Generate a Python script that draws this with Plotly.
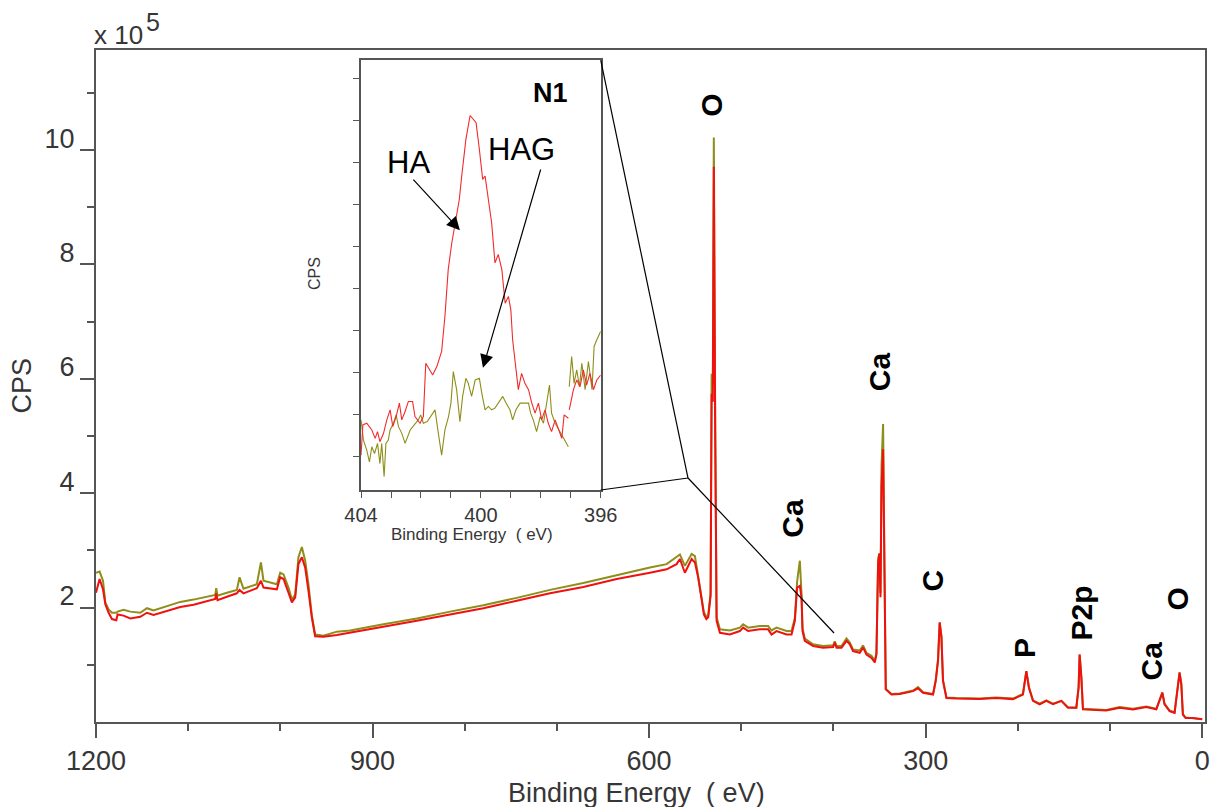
import plotly.graph_objects as go

# ---------------- main survey spectrum (x 10^5 CPS) ----------------
energy = [1200.0, 1196.1, 1192.4, 1189.9, 1186.3, 1182.7, 1178.0, 1176.6, 1170.1, 1162.8,
          1152.0, 1144.7, 1137.6, 1123.0, 1108.6, 1094.2, 1079.7, 1070.7, 1069.6, 1068.2,
          1058.0, 1047.2, 1044.3, 1040.0, 1025.5, 1021.1, 1018.3, 1003.8, 1000.2, 996.6,
          991.2, 987.5, 983.9, 980.4, 976.7, 973.1, 969.5, 965.9, 962.3, 953.3,
          938.7, 924.3, 888.2, 852.0, 815.9, 779.8, 743.6, 707.5, 671.4, 635.2,
          599.1, 581.0, 570.2, 566.6, 561.2, 553.9, 550.3, 546.8, 543.1, 540.6,
          537.9, 535.9, 533.3, 532.2, 530.9, 529.8, 528.3, 526.8, 523.2, 512.4,
          501.6, 498.0, 492.6, 479.9, 470.9, 467.2, 461.8, 450.9, 445.5, 441.9,
          439.5, 436.5, 434.7, 433.6, 431.1, 422.1, 411.3, 400.4, 398.6, 396.7,
          391.3, 385.9, 382.3, 378.8, 371.5, 367.9, 364.2, 358.8, 355.2, 353.4,
          351.6, 350.3, 349.0, 347.9, 346.2, 345.1, 344.3, 343.3, 337.1, 328.1,
          313.7, 308.3, 302.9, 292.0, 289.1, 286.6, 284.8, 282.9, 281.2, 277.5,
          266.7, 241.4, 223.3, 205.3, 194.5, 190.8, 188.0, 183.6, 176.4, 169.1,
          161.9, 152.8, 145.7, 136.6, 134.1, 133.0, 131.1, 129.4, 104.1, 89.6,
          75.2, 60.7, 49.8, 43.3, 40.9, 35.4, 30.0, 26.4, 24.6, 22.7,
          21.0, 18.1, 10.2, 0.0]

cps_ha = [2.26, 2.50, 2.32, 2.06, 1.91, 1.80, 1.78, 1.88, 1.86, 1.81,
          1.84, 1.91, 1.87, 1.94, 2.01, 2.05, 2.11, 2.15, 2.25, 2.13,
          2.19, 2.25, 2.31, 2.25, 2.34, 2.47, 2.35, 2.32, 2.53, 2.50,
          2.26, 2.09, 2.18, 2.76, 2.88, 2.70, 2.29, 1.83, 1.50, 1.49,
          1.52, 1.56, 1.66, 1.77, 1.88, 1.99, 2.12, 2.25, 2.36, 2.50,
          2.61, 2.67, 2.76, 2.85, 2.61, 2.85, 2.79, 2.53, 2.15, 1.88,
          1.80, 1.83, 2.21, 5.74, 5.60, 9.71, 5.04, 1.77, 1.56, 1.53,
          1.59, 1.65, 1.59, 1.62, 1.62, 1.53, 1.59, 1.53, 1.53, 1.77,
          2.35, 2.38, 2.18, 1.59, 1.42, 1.33, 1.30, 1.31, 1.39, 1.30,
          1.30, 1.42, 1.36, 1.24, 1.21, 1.30, 1.18, 1.12, 1.04, 1.18,
          2.76, 2.94, 2.18, 4.13, 4.77, 2.77, 1.68, 0.57, 0.48, 0.49,
          0.54, 0.59, 0.51, 0.48, 0.72, 1.07, 1.74, 1.48, 0.72, 0.42,
          0.41, 0.40, 0.42, 0.40, 0.48, 0.89, 0.60, 0.37, 0.31, 0.37,
          0.31, 0.37, 0.25, 0.25, 0.60, 1.18, 0.77, 0.22, 0.20, 0.25,
          0.22, 0.26, 0.22, 0.51, 0.31, 0.19, 0.16, 0.60, 0.86, 0.66,
          0.13, 0.07, 0.07, 0.05]

cps_hag = [2.61, 2.63, 2.47, 2.09, 1.97, 1.91, 1.91, 1.93, 1.96, 1.93,
           1.91, 1.99, 1.95, 2.02, 2.10, 2.14, 2.19, 2.22, 2.34, 2.21,
           2.26, 2.31, 2.53, 2.33, 2.41, 2.79, 2.47, 2.41, 2.61, 2.58,
           2.35, 2.14, 2.23, 2.88, 3.06, 2.82, 2.40, 1.87, 1.53, 1.51,
           1.58, 1.60, 1.71, 1.81, 1.93, 2.04, 2.17, 2.31, 2.43, 2.57,
           2.70, 2.76, 2.89, 2.93, 2.73, 2.94, 2.90, 2.57, 2.20, 1.92,
           1.84, 1.86, 2.26, 6.09, 5.90, 10.22, 5.21, 1.83, 1.62, 1.60,
           1.65, 1.71, 1.65, 1.68, 1.68, 1.60, 1.65, 1.59, 1.59, 1.82,
           2.45, 2.82, 2.25, 1.64, 1.46, 1.36, 1.33, 1.34, 1.41, 1.33,
           1.33, 1.46, 1.39, 1.27, 1.25, 1.34, 1.21, 1.16, 1.07, 1.21,
           2.85, 2.95, 2.25, 4.48, 5.21, 2.85, 1.70, 0.58, 0.49, 0.50,
           0.55, 0.61, 0.52, 0.49, 0.73, 1.10, 1.74, 1.50, 0.73, 0.43,
           0.42, 0.41, 0.43, 0.41, 0.49, 0.89, 0.61, 0.38, 0.32, 0.38,
           0.32, 0.37, 0.26, 0.25, 0.61, 1.18, 0.78, 0.23, 0.21, 0.26,
           0.23, 0.27, 0.23, 0.52, 0.32, 0.20, 0.17, 0.61, 0.87, 0.67,
           0.14, 0.08, 0.07, 0.05]

assert len(energy) == len(cps_ha) == len(cps_hag)

# peak labels: (text, energy, height in 1e5 CPS)
peak_labels = [("O", 531.9, 10.79), ("Ca", 349.8, 6.13), ("Ca", 444.1, 3.57),
               ("C", 292.4, 2.47), ("P", 192.6, 1.29), ("P2p", 130.8, 1.91),
               ("Ca", 54.9, 1.07), ("O", 26.8, 2.15)]

y_tick_vals = [2, 4, 6, 8, 10]

# ---------------- inset: N1 region (arbitrary CPS units) ----------------
n1_ha_e = [404.00, 403.94, 403.81, 403.64, 403.53, 403.45, 403.37, 403.25, 403.14, 403.03,
           402.94, 402.83, 402.72, 402.64, 402.53, 402.42, 402.28, 402.20, 402.03, 401.92,
           401.84, 401.75, 401.61, 401.47, 401.31, 401.20, 401.09, 400.97, 400.86, 400.72,
           400.64, 400.50, 400.36, 400.27, 400.16, 400.05, 399.94, 399.86, 399.75, 399.64,
           399.53, 399.42, 399.30, 399.19, 399.08, 399.00, 398.94, 398.83, 398.75, 398.64,
           398.53, 398.41, 398.30, 398.19, 398.08, 397.97, 397.86, 397.75, 397.64, 397.52,
           397.41, 397.30, 397.22, 397.08, None, 397.05, 396.91, 396.80, 396.69, 396.58,
           396.47, 396.36, 396.24, 396.13, 396.00]
n1_ha_cps = [1.02, 1.74, 1.78, 1.62, 1.42, 1.58, 1.34, 1.54, 1.86, 2.10,
             1.70, 1.94, 2.26, 1.86, 2.06, 2.30, 2.30, 1.94, 1.78, 1.94,
             3.21, 3.09, 2.93, 3.13, 3.49, 4.33, 5.44, 6.08, 6.55, 7.11,
             7.67, 8.54, 9.11, 9.02, 8.94, 8.30, 7.59, 7.67, 7.11, 6.55,
             5.60, 5.80, 5.44, 4.64, 4.80, 4.48, 3.77, 3.05, 2.58, 2.97,
             2.73, 2.58, 2.26, 2.02, 2.26, 1.86, 2.10, 1.78, 1.58, 1.86,
             1.62, 1.42, 1.98, 1.90, None, 2.10, 2.58, 2.81, 2.65, 3.05,
             2.69, 2.97, 2.58, 2.81, 2.93]

n1_hag_e = [404.00, 403.92, 403.81, 403.72, 403.64, 403.55, 403.45, 403.37, 403.31, 403.23,
            403.17, 403.09, 403.03, 402.92, 402.83, 402.75, 402.64, 402.53, 402.36, 402.20,
            402.09, 402.01, 401.92, 401.79, 401.67, 401.53, 401.42, 401.31, 401.20, 401.08,
            401.00, 400.92, 400.81, 400.70, 400.61, 400.50, 400.42, 400.31, 400.19, 400.05,
            399.97, 399.86, 399.75, 399.64, 399.53, 399.42, 399.27, 399.16, 399.03, 398.94,
            398.83, 398.69, 398.53, 398.41, 398.34, 398.25, 398.14, 398.02, 397.91, 397.80,
            397.71, 397.64, 397.52, 397.36, 397.22, 397.08, None, 397.05, 396.97, 396.89,
            396.80, 396.71, 396.63, 396.52, 396.41, 396.29, 396.22, 396.13, 396.00]
n1_hag_cps = [1.86, 1.38, 1.14, 0.86, 1.22, 1.06, 1.30, 0.82, 1.30, 0.51,
              1.30, 1.38, 1.62, 1.78, 1.98, 1.70, 1.54, 1.30, 1.62, 1.78,
              1.86, 1.98, 1.78, 1.82, 1.94, 2.10, 1.54, 1.02, 1.62, 1.94,
              2.26, 3.01, 2.58, 1.82, 2.42, 2.85, 2.73, 2.42, 2.81, 2.85,
              2.50, 2.10, 2.18, 2.10, 2.14, 2.26, 2.42, 2.26, 2.10, 1.86,
              2.10, 2.26, 2.26, 2.26, 2.02, 1.86, 1.58, 1.94, 1.78, 2.26,
              2.69, 2.02, 1.78, 1.58, 1.38, 1.22, None, 2.65, 3.37, 2.73,
              3.05, 2.65, 3.21, 2.58, 3.25, 2.58, 3.61, 3.77, 3.97]

assert len(n1_ha_e) == len(n1_ha_cps) and len(n1_hag_e) == len(n1_hag_cps)

inset_x_ticks = [396, 397, 398, 399, 400, 401, 402, 403, 404]
inset_x_labels = ["396", "", "", "", "400", "", "", "", "404"]
inset_y_ticks = [1, 2, 3, 4, 5, 6, 7, 8, 9, 10]

RED = "#f01010"
OLIVE = "#8e8e1a"
AX = "#555555"
TXT = "#363636"
FONT = "Liberation Sans, Arial, sans-serif"

fig = go.Figure()
fig.add_trace(go.Scatter(x=energy, y=cps_hag, mode="lines", line=dict(color=OLIVE, width=2),
                         showlegend=False, xaxis="x", yaxis="y"))
fig.add_trace(go.Scatter(x=energy, y=cps_ha, mode="lines", line=dict(color=RED, width=2),
                         showlegend=False, xaxis="x", yaxis="y"))
fig.add_trace(go.Scatter(x=n1_hag_e, y=n1_hag_cps, mode="lines", line=dict(color=OLIVE, width=1.1),
                         showlegend=False, xaxis="x2", yaxis="y2", connectgaps=False))
fig.add_trace(go.Scatter(x=n1_ha_e, y=n1_ha_cps, mode="lines", line=dict(color="#f22a2a", width=1.1),
                         showlegend=False, xaxis="x2", yaxis="y2", connectgaps=False))

annotations = []
for txt, e, v in peak_labels:
    annotations.append(dict(x=e, y=v, xref="x", yref="y", text="<b>%s</b>" % txt, showarrow=False,
                            textangle=-90, font=dict(family=FONT, size=30, color="black"),
                            xanchor="center", yanchor="middle"))

# axis titles / labels
annotations += [
    dict(x=0.4876, y=-0.105, xref="paper", yref="paper", text="Binding Energy\u00a0\u00a0(\u00a0eV)",
         showarrow=False, font=dict(family=FONT, size=27, color=TXT), xanchor="center", yanchor="middle"),
    dict(x=-0.0663, y=0.5015, xref="paper", yref="paper", text="CPS", textangle=-90,
         showarrow=False, font=dict(family=FONT, size=27, color=TXT), xanchor="center", yanchor="middle"),
    dict(x=-0.004, y=1.0223, xref="paper", yref="paper", text="x 10",
         showarrow=False, font=dict(family=FONT, size=26, color=TXT), xanchor="left", yanchor="middle"),
    dict(x=0.0435, y=1.0417, xref="paper", yref="paper", text="5",
         showarrow=False, font=dict(family=FONT, size=25, color=TXT), xanchor="left", yanchor="middle"),
    dict(x=0.3388, y=0.2783, xref="paper", yref="paper", text="Binding Energy\u00a0\u00a0(\u00a0eV)",
         showarrow=False, font=dict(family=FONT, size=17, color=TXT), xanchor="center", yanchor="middle"),
    dict(x=0.1975, y=0.6667, xref="paper", yref="paper", text="CPS", textangle=-90,
         showarrow=False, font=dict(family=FONT, size=16, color=TXT), xanchor="center", yanchor="middle"),
    # inset texts
    dict(x=402.43, y=8.0, xref="x2", yref="y2", text="HA", showarrow=False,
         font=dict(family=FONT, size=31, color="black")),
    dict(x=398.63, y=8.31, xref="x2", yref="y2", text="HAG", showarrow=False,
         font=dict(family=FONT, size=31, color="black")),
    dict(x=397.69, y=9.64, xref="x2", yref="y2", text="<b>N1</b>", showarrow=False,
         font=dict(family=FONT, size=27, color="black")),
    # arrows
    dict(x=400.70, y=6.38, xref="x2", yref="y2", ax=402.30, ay=7.62, axref="x2", ayref="y2",
         text="", showarrow=True, arrowhead=2, arrowsize=2.2, arrowwidth=1.2, arrowcolor="black"),
    dict(x=399.93, y=3.10, xref="x2", yref="y2", ax=397.99, ay=7.86, axref="x2", ayref="y2",
         text="", showarrow=True, arrowhead=2, arrowsize=2.2, arrowwidth=1.2, arrowcolor="black"),
]

shapes = [
    dict(type="line", xref="x", yref="y", x0=652.5, y0=11.575, x1=557.8, y1=4.266,
         line=dict(color="black", width=1.2)),
    dict(type="line", xref="x", yref="y", x0=652.5, y0=4.057, x1=557.8, y1=4.266,
         line=dict(color="black", width=1.2)),
    dict(type="line", xref="x", yref="y", x0=557.8, y0=4.266, x1=399.4, y1=1.556,
         line=dict(color="black", width=1.2)),
]

fig.update_layout(
    width=1213, height=807, autosize=False,
    margin=dict(l=96, r=8, t=50, b=85, autoexpand=False),
    paper_bgcolor="white", plot_bgcolor="white",
    font=dict(family=FONT, color=TXT),
    showlegend=False,
    xaxis=dict(range=[1200, -3], showgrid=False, zeroline=False, automargin=False,
               showline=True, mirror=True, linecolor=AX, linewidth=2,
               ticks="outside", ticklen=14, tickwidth=2, tickcolor=AX,
               tick0=0, dtick=300, tickfont=dict(size=27, color=TXT),
               minor=dict(dtick=100, ticklen=7, tickwidth=1.5, tickcolor=AX, ticks="outside")),
    yaxis=dict(range=[0, 11.75], showgrid=False, zeroline=False, automargin=False,
               showline=True, mirror=True, linecolor=AX, linewidth=2,
               ticks="outside", ticklen=14, tickwidth=2, tickcolor=AX,
               tickmode="array", tickvals=y_tick_vals, ticktext=[str(v) for v in y_tick_vals],
               tickfont=dict(size=27, color=TXT), ticklabelshift=-12,
               minor=dict(tickmode="array", tickvals=[1, 3, 5, 7, 9, 11], ticklen=7,
                          tickwidth=1.5, tickcolor=AX, ticks="outside")),
    xaxis2=dict(domain=[0.2390, 0.4551], anchor="y2", range=[404, 396], automargin=False,
                showgrid=False, zeroline=False, showline=True, mirror=True,
                linecolor=AX, linewidth=1.5, ticks="outside", ticklen=6, tickwidth=1.2,
                tickcolor=AX, tickmode="array", tickvals=inset_x_ticks, ticktext=inset_x_labels,
                tickfont=dict(family="Liberation Sans Narrow, Arial Narrow, Liberation Sans", size=20, color=TXT)),
    yaxis2=dict(domain=[0.3452, 0.985], anchor="x2", range=[0.19, 10.43], automargin=False,
                showgrid=False, zeroline=False, showline=True, mirror=True,
                linecolor=AX, linewidth=1.5, ticks="outside", ticklen=6, tickwidth=1.2,
                tickcolor=AX, tickmode="array", tickvals=inset_y_ticks, showticklabels=False),
    annotations=annotations,
    shapes=shapes,
)

post = ("document.body.style.margin='0';document.body.style.padding='0';"
        "document.body.style.overflow='hidden';"
        "var gd=document.getElementById('{plot_id}');"
        "Plotly.relayout(gd,{width:1213,height:807});")

fig.write_html("out.html", config={"responsive": False, "displayModeBar": False}, post_script=post)
